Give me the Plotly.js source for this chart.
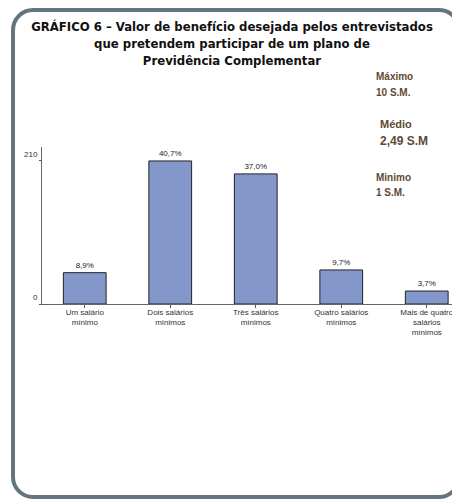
<!DOCTYPE html>
<html><head><meta charset="utf-8">
<script src="https://cdn.plot.ly/plotly-3.0.1.min.js"></script>
<style>html,body{margin:0;padding:0;background:#fff;overflow:hidden}#chart{width:452px;height:499px}</style>
</head><body><div id="chart"></div>
<script>
// Data
const categories = ["Um salário<br>mínimo", "Dois salários<br>mínimos", "Três salários<br>mínimos", "Quatro salários<br>mínimos", "Mais de quatro<br>salários<br>mínimos"];
const counts = [46, 210, 191, 50, 19];
const percentLabels = ["8,9%", "40,7%", "37,0%", "9,7%", "3,7%"];
const yTickVals = [0, 210];
const yTickText = ["0", "210"];
const statsLines = [["Máximo", "10 S.M."], ["Médio", "2,49 S.M"], ["Minimo", "1 S.M."]];

const W = 452, H = 499;
const mL = 42, mR = 0, mT = 147, mB = 195;
const pw = W - mL - mR, ph = H - mT - mB;
const px = x => (x - mL) / pw;
const py = y => (H - mB - y) / ph;

// rounded frame path in paper coordinates
function framePath(x0, y0, x1, y1, r) {
  const k = 0.5523 * r;
  const P = (x, y) => px(x).toFixed(4) + "," + py(y).toFixed(4);
  return "M" + P(x0, y0 + r) +
    " C" + P(x0, y0 + r - k) + " " + P(x0 + r - k, y0) + " " + P(x0 + r, y0) +
    " L" + P(x1 - r, y0) +
    " C" + P(x1 - r + k, y0) + " " + P(x1, y0 + r - k) + " " + P(x1, y0 + r) +
    " L" + P(x1, y1 - r) +
    " C" + P(x1, y1 - r + k) + " " + P(x1 - r + k, y1) + " " + P(x1 - r, y1) +
    " L" + P(x0 + r, y1) +
    " C" + P(x0 + r - k, y1) + " " + P(x0, y1 - r + k) + " " + P(x0, y1 - r) + " Z";
}

const statColor = "#5e4a33";
const statPos = [[374, 76, 374, 92, 10, 10], [378, 124, 378, 141, 11, 12], [374, 177, 374, 192, 10, 10]];
const annotations = [];
statsLines.forEach((lines, i) => {
  const p = statPos[i];
  annotations.push({xref: "paper", yref: "paper", x: px(p[0]), y: py(p[1]), xanchor: "left", yanchor: "middle",
    text: lines[0], showarrow: false, font: {family: "Liberation Sans, Arial", size: p[4], color: statColor, weight: "bold"}});
  annotations.push({xref: "paper", yref: "paper", x: px(p[2]), y: py(p[3]), xanchor: "left", yanchor: "middle",
    text: lines[1], showarrow: false, font: {family: "Liberation Sans, Arial", size: p[5], color: statColor, weight: "bold"}});
});

const trace = {
  type: "bar",
  x: [0, 1, 2, 3, 4],
  y: counts,
  text: percentLabels,
  textposition: "outside",
  textfont: {family: "Liberation Sans, Arial", size: 8, color: "#222"},
  cliponaxis: false,
  width: 0.5,
  marker: {color: "#8497cb", line: {color: "#222", width: 1}},
  hoverinfo: "skip"
};

const layout = {
  width: W, height: H,
  margin: {l: mL, r: mR, t: mT, b: mB, pad: 0},
  paper_bgcolor: "#fff", plot_bgcolor: "#fff",
  showlegend: false,
  title: {
    text: "GRÁFICO 6 – Valor de benefício desejada pelos entrevistados<br>que pretendem participar de um plano de<br>Previdência Complementar",
    font: {family: "DejaVu Sans Condensed, DejaVu Sans", size: 13, color: "#111", weight: "bold"},
    x: 232 / W, xanchor: "center", xref: "container",
    y: 1 - 31 / H, yanchor: "top", yref: "container"
  },
  xaxis: {
    range: [-0.5, -0.5 + pw / 85.5],
    tickmode: "array", tickvals: [0, 1, 2, 3, 4], ticktext: categories,
    tickson: "boundaries", ticks: "outside", ticklen: 3, tickcolor: "#555",
    ticklabeloverflow: "allow", ticklabelstandoff: -3,
    showline: true, linecolor: "#666", linewidth: 1,
    showgrid: false, zeroline: false, fixedrange: true,
    tickfont: {family: "Liberation Sans, Arial", size: 8, color: "#333"}
  },
  yaxis: {
    range: [0, 230.5],
    tickmode: "array", tickvals: yTickVals, ticktext: yTickText,
    ticks: "outside", ticklen: 2, tickcolor: "#555",
    showline: true, linecolor: "#666", linewidth: 1,
    showgrid: false, zeroline: false, fixedrange: true,
    ticklabelshift: -7,
    tickfont: {family: "Liberation Sans, Arial", size: 8, color: "#333"}
  },
  shapes: [{
    type: "path", xref: "paper", yref: "paper",
    path: framePath(13, 10, 459, 497, 20),
    line: {color: "#63757f", width: 4}, fillcolor: "rgba(0,0,0,0)", layer: "below"
  }],
  annotations: annotations
};

Plotly.newPlot("chart", [trace], layout, {staticPlot: true, displayModeBar: false});
</script></body></html>
